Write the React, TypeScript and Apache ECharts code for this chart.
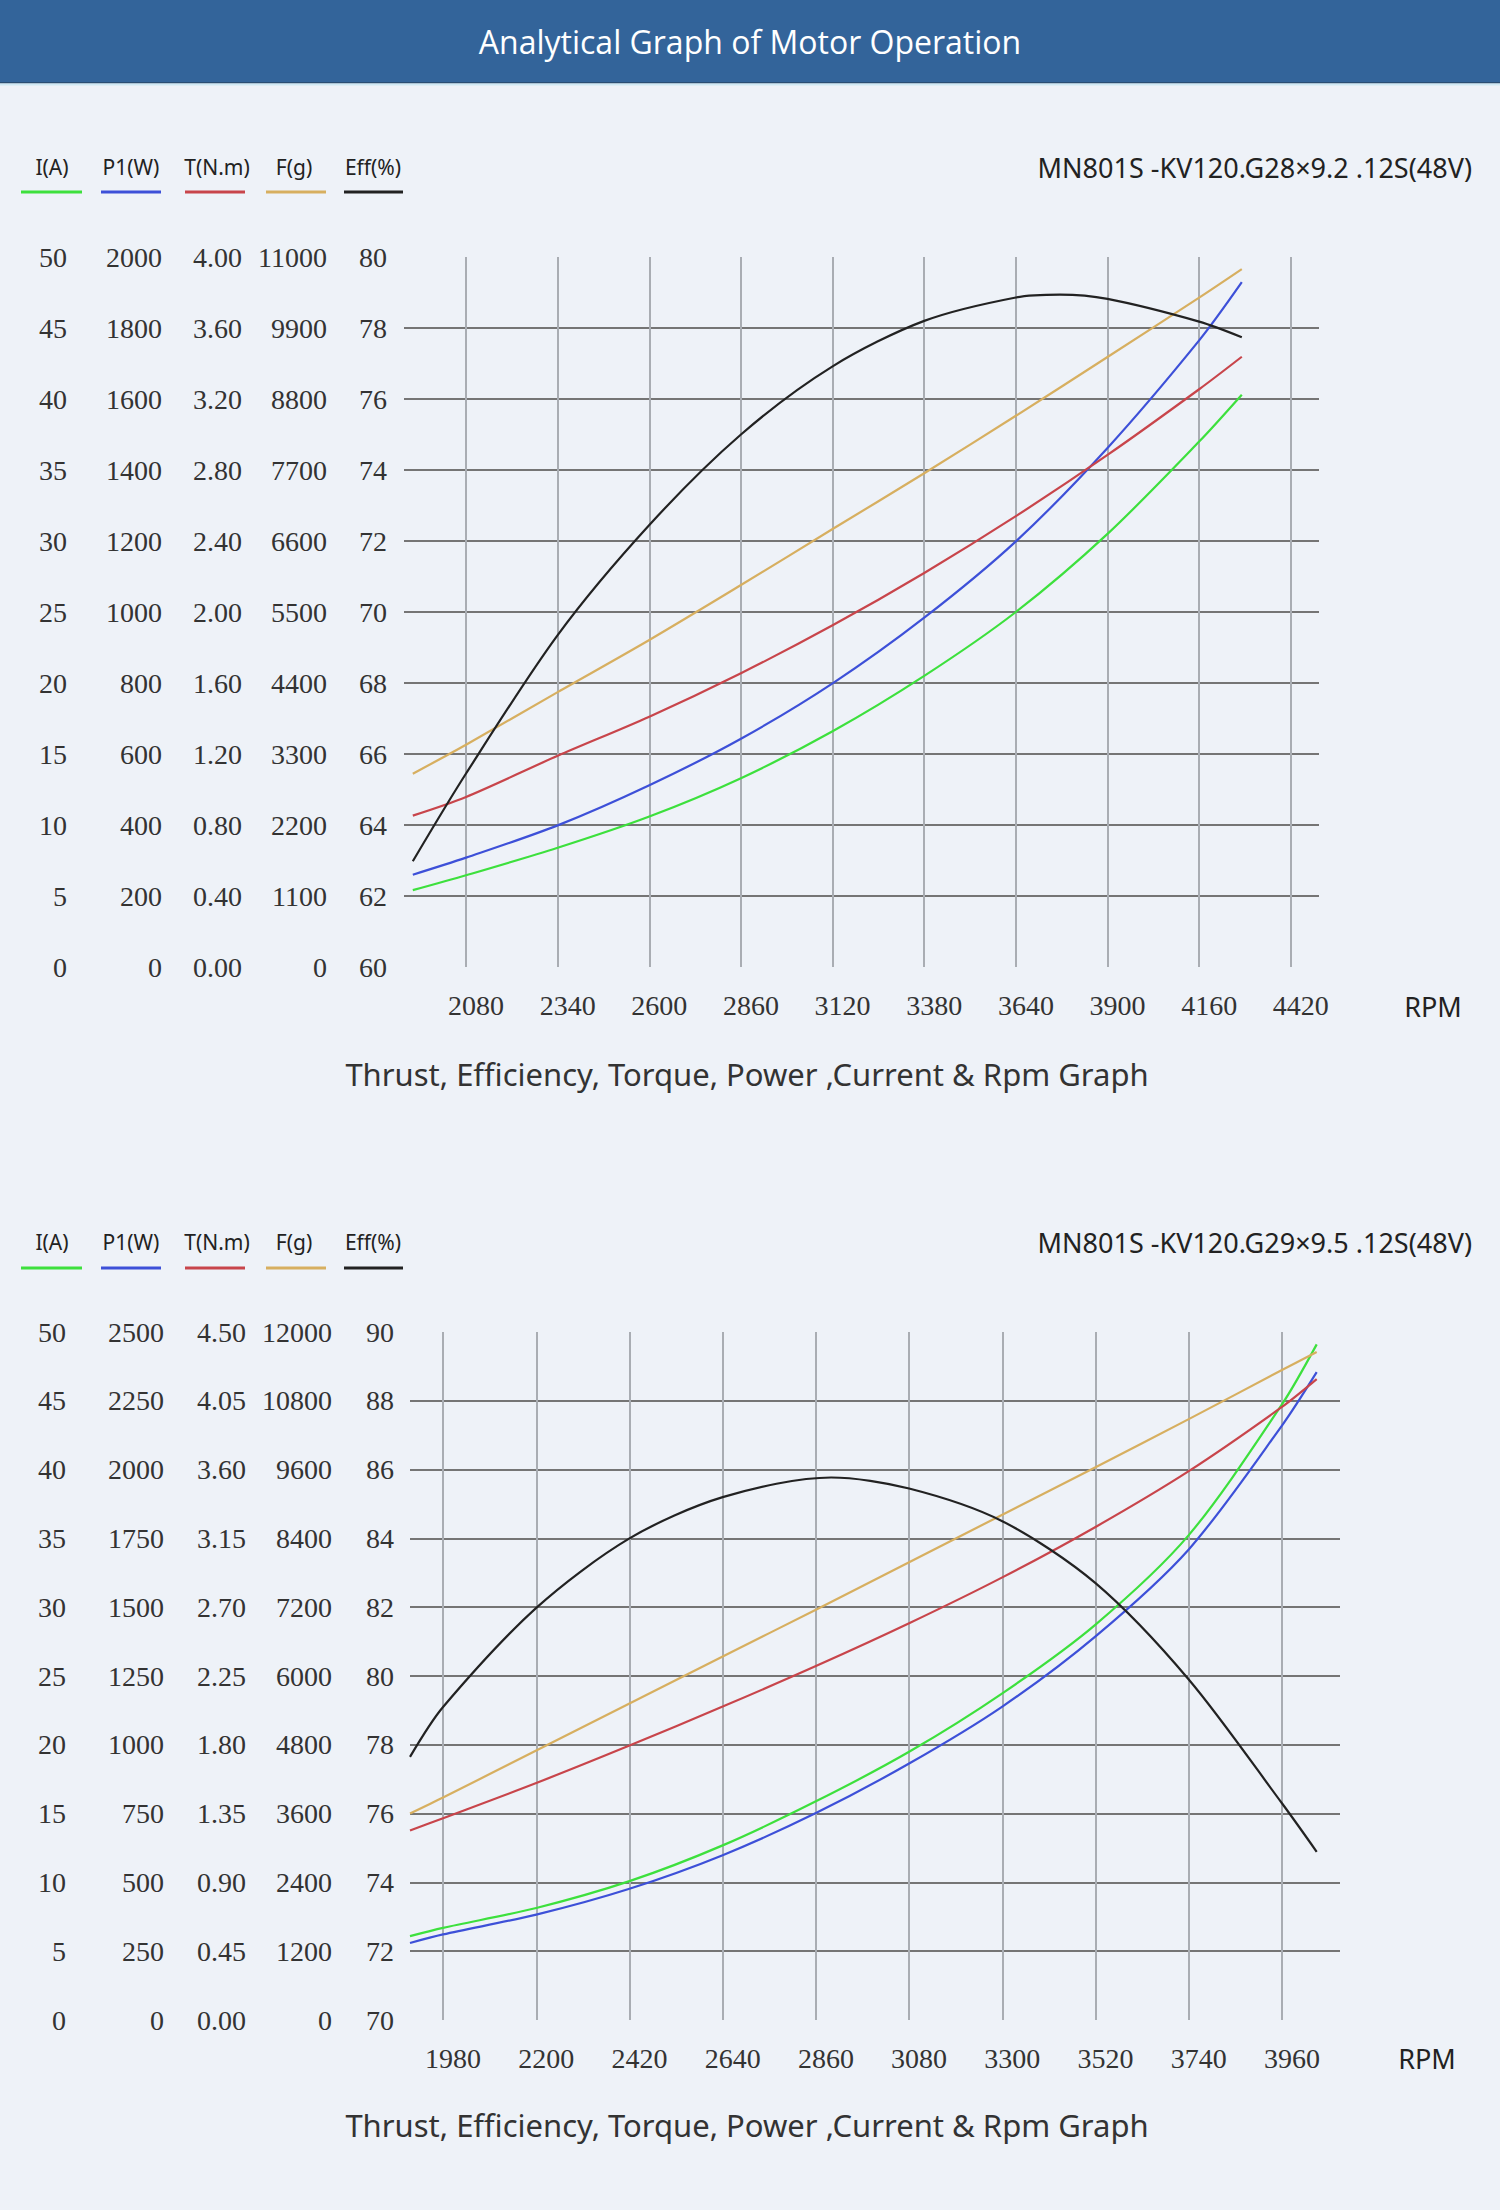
import React, { useEffect, useRef } from "react";
import * as echarts from "echarts";

// ---------- Data: chart 1 (MN801S KV120, G28x9.2) ----------
const rpm1 = [1929, 2080, 2340, 2600, 2860, 3120, 3380, 3640, 3900, 4160, 4281];
const current1 = [5.41, 6.46, 8.4, 10.6, 13.3, 16.6, 20.5, 25.0, 30.5, 37.0, 40.3];
const power1 = [260, 308, 399, 512, 643, 799, 984, 1199, 1462, 1765, 1929];
const torque1 = [0.853, 0.958, 1.19, 1.41, 1.655, 1.925, 2.22, 2.54, 2.885, 3.255, 3.438];
const thrust1 = [2995, 3443, 4259, 5067, 5918, 6785, 7650, 8540, 9450, 10370, 10812];
const rpmEff1 = [1929, 2080, 2340, 2600, 2860, 3120, 3380, 3640, 3765, 3900, 4160, 4281];
const eff1 = [62.98, 65.45, 69.35, 72.45, 75.0, 76.92, 78.2, 78.86, 78.94, 78.82, 78.18, 77.74];
const xTicks1 = [2080, 2340, 2600, 2860, 3120, 3380, 3640, 3900, 4160, 4420];
const hLines1 = [62, 64, 66, 68, 70, 72, 74, 76, 78];
const title1 = "MN801S -KV120.G28×9.2 .12S(48V)";

// ---------- Data: chart 2 (MN801S KV120, G29x9.5) ----------
const rpm2 = [1902, 1980, 2200, 2420, 2640, 2860, 3080, 3300, 3520, 3740, 3960, 4042];
const current2 = [6.1, 6.7, 8.14, 10.09, 12.69, 15.89, 19.49, 23.74, 28.74, 35.24, 44.74, 49.1];
const power2 = [280, 311, 383, 477, 599, 752, 932, 1139, 1394, 1710, 2160, 2354];
const torque2 = [1.24, 1.32, 1.55, 1.795, 2.05, 2.315, 2.595, 2.895, 3.225, 3.59, 4.01, 4.192];
const thrust2 = [3600, 3880, 4700, 5520, 6340, 7156, 7984, 8813, 9641, 10480, 11337, 11652];
const rpmEff2 = [1902, 1980, 2200, 2420, 2640, 2896, 3080, 3300, 3520, 3740, 3960, 4042];
const eff2 = [77.65, 79.1, 81.98, 84.0, 85.2, 85.77, 85.45, 84.5, 82.7, 79.9, 76.3, 74.89];
const xTicks2 = [1980, 2200, 2420, 2640, 2860, 3080, 3300, 3520, 3740, 3960];
const hLines2 = [72, 74, 76, 78, 80, 82, 84, 86, 88];
const title2 = "MN801S -KV120.G29×9.5 .12S(48V)";

// ---------- Shared labels ----------
const legendNames = ["I(A)", "P1(W)", "T(N.m)", "F(g)", "Eff(%)"];
const seriesColors = ["#3de03d", "#3d50d8", "#c8454b", "#d7af60", "#222222"];
const headerTitle = "Analytical Graph of Motor Operation";
const subTitle = "Thrust, Efficiency, Torque, Power ,Current & Rpm Graph";
const xName = "RPM";

const SERIF = '"Liberation Serif", "DejaVu Serif", serif';
const SANS = '"Noto Sans", "Open Sans", sans-serif';

type AxisCfg = { min: number; max: number; interval: number; offset: number; margin: number; dec: number };

type ChartCfg = {
  left: number; top: number; width: number; height: number;
  xMin: number; xMax: number; xTicks: number[]; hLines: number[];
  axes: AxisCfg[]; xs: number[][]; values: number[][];
  legendTextY: number; legendLineY: number; rpmPos: [number, number]; subPos: [number, number]; title: string;
};

const charts: ChartCfg[] = [
  {
    left: 404, top: 257, width: 915, height: 710,
    xMin: 1904, xMax: 4500, xTicks: xTicks1, hLines: hLines1,
    axes: [
      { min: 0, max: 50, interval: 5, offset: 320, margin: 17, dec: 0 },
      { min: 0, max: 2000, interval: 200, offset: 225, margin: 17, dec: 0 },
      { min: 0, max: 4, interval: 0.4, offset: 145, margin: 17, dec: 2 },
      { min: 0, max: 11000, interval: 1100, offset: 60, margin: 17, dec: 0 },
      { min: 60, max: 80, interval: 2, offset: 0, margin: 17, dec: 0 },
    ],
    xs: [rpm1, rpm1, rpm1, rpm1, rpmEff1],
    values: [current1, power1, torque1, thrust1, eff1],
    legendTextY: 167, legendLineY: 192, rpmPos: [1433, 1006], subPos: [747, 1074], title: title1,
  },
  {
    left: 410, top: 1332, width: 930, height: 688,
    xMin: 1902, xMax: 4097, xTicks: xTicks2, hLines: hLines2,
    axes: [
      { min: 0, max: 50, interval: 5, offset: 328, margin: 16, dec: 0 },
      { min: 0, max: 2500, interval: 250, offset: 230, margin: 16, dec: 0 },
      { min: 0, max: 4.5, interval: 0.45, offset: 148, margin: 16, dec: 2 },
      { min: 0, max: 12000, interval: 1200, offset: 62, margin: 16, dec: 0 },
      { min: 70, max: 90, interval: 2, offset: 0, margin: 16, dec: 0 },
    ],
    xs: [rpm2, rpm2, rpm2, rpm2, rpmEff2],
    values: [current2, power2, torque2, thrust2, eff2],
    legendTextY: 1242, legendLineY: 1268, rpmPos: [1427, 2058], subPos: [747, 2125], title: title2,
  },
];

const legendTextX = [52, 131, 217, 294, 373];
const legendLineX: [number, number][] = [[21, 82], [101, 161], [185, 245], [266, 326], [344, 403]];

function buildOption(): any {
  const grid: any[] = [];
  const xAxis: any[] = [];
  const yAxis: any[] = [];
  const series: any[] = [];
  const graphic: any[] = [];

  // header
  graphic.push(
    { type: "rect", shape: { x: 0, y: 0, width: 1500, height: 82 }, style: { fill: "#33649a" }, silent: true },
    { type: "rect", shape: { x: 0, y: 82, width: 1500, height: 1.5 }, style: { fill: "#2a4d72" }, silent: true },
    { type: "rect", shape: { x: 0, y: 83.5, width: 1500, height: 2 }, style: { fill: "#cfe9f4" }, silent: true },
    {
      type: "text", x: 750, y: 41, silent: true,
      style: { text: headerTitle, fill: "#ffffff", font: '32px "Open Sans", "Noto Sans", sans-serif', textAlign: "center", textVerticalAlign: "middle" },
    }
  );

  charts.forEach((c, ci) => {
    grid.push({ left: c.left, top: c.top, width: c.width, height: c.height, containLabel: false, outerBoundsMode: "none" });
    xAxis.push({
      type: "value", gridIndex: ci, min: c.xMin, max: c.xMax,
      axisLine: { show: false }, axisTick: { show: false }, splitLine: { show: false },
      axisLabel: {
        customValues: c.xTicks, margin: 24, padding: [0, 0, 0, 20],
        fontFamily: SERIF, fontSize: 28, color: "#333",
        formatter: (v: number) => String(Math.round(v)),
      },
    });
    c.axes.forEach((a) => {
      yAxis.push({
        type: "value", gridIndex: ci, position: "left", offset: a.offset,
        min: a.min, max: a.max, interval: a.interval,
        axisLine: { show: false }, axisTick: { show: false }, splitLine: { show: false },
        axisLabel: {
          margin: a.margin, fontFamily: SERIF, fontSize: 28, color: "#333",
          formatter: (v: number) => v.toFixed(a.dec),
        },
      });
    });
    c.values.forEach((vals, si) => {
      const xs = c.xs[si];
      const s: any = {
        type: "line", name: legendNames[si] + " " + (ci + 1), xAxisIndex: ci, yAxisIndex: ci * 5 + si,
        data: xs.map((r, i) => [r, vals[i]]),
        smooth: 0.3, showSymbol: false, symbol: "none", z: 3,
        lineStyle: { color: seriesColors[si], width: 2.2 },
        itemStyle: { color: seriesColors[si] },
        silent: true,
      };
      if (si === 4) {
        s.markLine = {
          z: 1, silent: true, symbol: ["none", "none"], label: { show: false }, animation: false,
          emphasis: { disabled: true },
          data: [
            ...c.hLines.map((v) => ({ yAxis: v, lineStyle: { color: "#757575", width: 2, type: "solid" } })),
            ...c.xTicks.map((v) => ({ xAxis: v, lineStyle: { color: "#a9adb3", width: 2, type: "solid" } })),
          ],
        };
      }
      series.push(s);
    });

    // legend
    legendNames.forEach((n, i) => {
      graphic.push(
        {
          type: "text", x: legendTextX[i], y: c.legendTextY, silent: true,
          style: { text: n, fill: "#222", font: "21px " + SANS, textAlign: "center", textVerticalAlign: "middle" },
        },
        {
          type: "line", silent: true,
          shape: { x1: legendLineX[i][0], y1: c.legendLineY, x2: legendLineX[i][1], y2: c.legendLineY },
          style: { stroke: seriesColors[i], lineWidth: 3 },
        }
      );
    });
    graphic.push(
      {
        type: "text", x: 1472, y: c.legendTextY, silent: true,
        style: { text: c.title, fill: "#222", font: "27px " + SANS, textAlign: "right", textVerticalAlign: "middle" },
      },
      {
        type: "text", x: c.rpmPos[0], y: c.rpmPos[1], silent: true,
        style: { text: xName, fill: "#222", font: "27px " + SANS, textAlign: "center", textVerticalAlign: "middle" },
      },
      {
        type: "text", x: c.subPos[0], y: c.subPos[1], silent: true,
        style: { text: subTitle, fill: "#333", font: "31px " + SANS, textAlign: "center", textVerticalAlign: "middle" },
      }
    );
  });

  return {
    animation: false,
    backgroundColor: "#eef2f8",
    grid, xAxis, yAxis, series, graphic,
  };
}

export default function App() {
  const ref = useRef<HTMLDivElement>(null);
  useEffect(() => {
    document.body.style.margin = "0";
    if (!ref.current) return;
    const chart = echarts.init(ref.current, undefined, { renderer: "svg" });
    chart.setOption(buildOption());
    return () => chart.dispose();
  }, []);
  return <div ref={ref} style={{ width: 1500, height: 2210, background: "#eef2f8" }} />;
}
